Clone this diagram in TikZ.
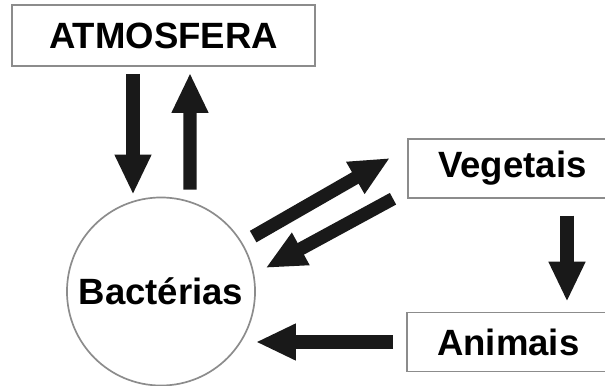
\documentclass[tikz,border=0pt]{standalone}
\usepackage{fontspec}
\setmainfont{Liberation Sans}
\usetikzlibrary{arrows.meta}
\definecolor{BoxGray}{RGB}{140,140,140}
\definecolor{ArrBlack}{RGB}{25,25,25}
\tikzset{
  box/.style    = {draw=BoxGray, line width=1.2pt, minimum height=1.47cm,
                   font=\fontsize{26}{30}\selectfont\bfseries},
  rbox/.style   = {box, anchor=west, inner xsep=0.76cm, text width=4.2cm, align=left},
  cnode/.style  = {draw=BoxGray, line width=1.2pt, circle, minimum size=4.7cm,
                   inner sep=0pt, font=\fontsize{26}{30}\selectfont\bfseries},
  bigarr/.style = {-{Triangle[length=1cm,width=0.85cm]}, line width=0.33cm, ArrBlack}
}
\begin{document}
\begin{tikzpicture}[x=0.025cm, y=-0.025cm]
\clip (0,0) rectangle (605,386);
\fill[white] (0,0) rectangle (605,386);
\node[box, minimum width=7.575cm, minimum height=1.525cm] (atm) at (163.5,35.5) {ATMOSFERA};
\node[cnode] (bac) at (161,291.5) {Bactérias};
\node[rbox] (veg) at (407,168.5) {Vegetais};
\node[rbox] (ani) at (406,342) {Animais};
\draw[bigarr] ([shift={(-30.5,7)}]atm.south) -- ([shift={(-28,-2)}]bac.north);
\draw[bigarr] ([shift={(29,-7)}]bac.north) -- ([shift={(26.5,6)}]atm.south);
\draw[bigarr] ([shift={(10,-7.5)}]bac.30) -- ([shift={(-17,-10.5)}]veg.west);
\draw[bigarr] ([shift={(-14,0)}]veg.south west) -- ([shift={(13,1)}]bac.15);
\draw[bigarr] ([shift={(160,17)}]veg.south west) -- ([shift={(161,-10)}]ani.north west);
\draw[bigarr] ([shift={(-13,0)}]ani.west) -- (bac.east |- ani.west);
\end{tikzpicture}
\end{document}
